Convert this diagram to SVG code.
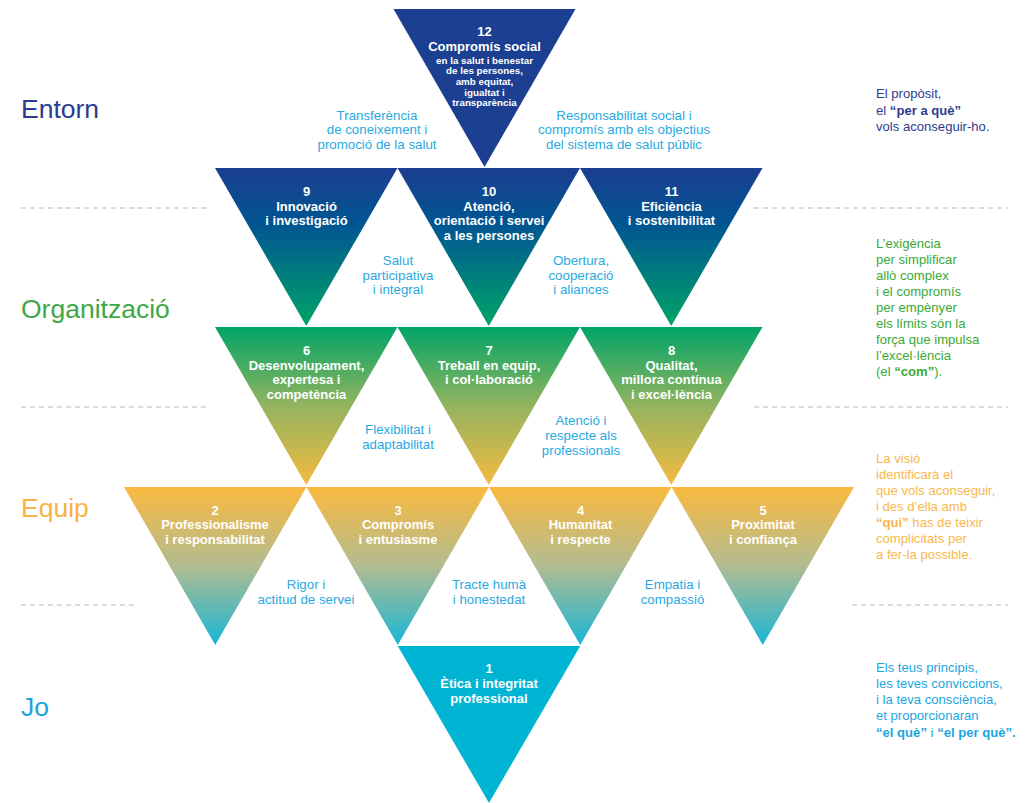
<svg xmlns="http://www.w3.org/2000/svg" width="1025" height="803" viewBox="0 0 1025 803">
<defs>
<linearGradient id="gBlueGreen" x1="0" y1="0" x2="0" y2="1">
<stop offset="0" stop-color="#1d3e90"/>
<stop offset="0.35" stop-color="#005592"/>
<stop offset="1" stop-color="#00a468"/>
</linearGradient>
<linearGradient id="gGreenYellow" x1="0" y1="0" x2="0" y2="1">
<stop offset="0" stop-color="#00a466"/>
<stop offset="0.5" stop-color="#93b45f"/>
<stop offset="1" stop-color="#f4b940"/>
</linearGradient>
<linearGradient id="gYellowCyan" x1="0" y1="0" x2="0" y2="1">
<stop offset="0" stop-color="#fab93f"/>
<stop offset="0.5" stop-color="#b2bc90"/>
<stop offset="1" stop-color="#18b6d6"/>
</linearGradient>
<style>
.node{font-family:"Liberation Sans",Arial,sans-serif;font-weight:bold;fill:#ffffff;text-anchor:middle;font-size:13px}
.small{font-size:9.8px}
.lbl{font-family:"Liberation Sans",Arial,sans-serif;fill:#29a9e1;text-anchor:middle;font-size:13.3px}
.side{font-family:"Liberation Sans",Arial,sans-serif;font-size:13.1px}
.lvl{font-family:"Liberation Sans",Arial,sans-serif;font-size:26.5px}
.dash{stroke:#b8b8b8;stroke-width:1;stroke-dasharray:5 4;fill:none}
.b{font-weight:bold}
</style>
</defs>
<rect width="1025" height="803" fill="#ffffff"/>

<g id="separators">
<line class="dash" x1="21" y1="208" x2="210" y2="208"/>
<line class="dash" x1="754" y1="208" x2="1008" y2="208"/>
<line class="dash" x1="21" y1="407" x2="210" y2="407"/>
<line class="dash" x1="754" y1="407" x2="1008" y2="407"/>
<line class="dash" x1="21" y1="605" x2="137" y2="605"/>
<line class="dash" x1="852" y1="605" x2="1008" y2="605"/>
</g>

<g id="levels">
<text class="lvl" x="21" y="118" fill="#2a3c8f">Entorn</text>
<text class="lvl" x="21" y="318" fill="#3da845">Organització</text>
<text class="lvl" x="21" y="517" fill="#f7b344">Equip</text>
<text class="lvl" x="21" y="716" fill="#1aa3dd">Jo</text>
</g>

<g id="n12">
<polygon points="393.5,9 575.5,9 484.5,167" fill="#1c3f91"/>
<text class="node" x="484.5" y="36">12</text>
<text class="node" x="484.5" y="51">Compromís social</text>
<text class="node small" x="484.5" y="63.5">en la salut i benestar</text>
<text class="node small" x="484.5" y="74.2">de les persones,</text>
<text class="node small" x="484.5" y="84.9">amb equitat,</text>
<text class="node small" x="484.5" y="95.6">igualtat i</text>
<text class="node small" x="484.5" y="106.3">transparència</text>
</g>

<g id="n9">
<polygon points="215,168 397.5,168 306.25,326" fill="url(#gBlueGreen)"/>
<text class="node" x="306.5" y="196">9</text>
<text class="node" x="306.5" y="210.5">Innovació</text>
<text class="node" x="306.5" y="225">i investigació</text>
</g>
<g id="n10">
<polygon points="397.5,168 580,168 488.75,326" fill="url(#gBlueGreen)"/>
<text class="node" x="489" y="196">10</text>
<text class="node" x="489" y="210.5">Atenció,</text>
<text class="node" x="489" y="225">orientació i servei</text>
<text class="node" x="489" y="239.5">a les persones</text>
</g>
<g id="n11">
<polygon points="580,168 762.5,168 671.25,326" fill="url(#gBlueGreen)"/>
<text class="node" x="671.5" y="196">11</text>
<text class="node" x="671.5" y="210.5">Eficiència</text>
<text class="node" x="671.5" y="225">i sostenibilitat</text>
</g>

<g id="n6">
<polygon points="215,327 397.5,327 306.25,485" fill="url(#gGreenYellow)"/>
<text class="node" x="306.5" y="355">6</text>
<text class="node" x="306.5" y="369.5">Desenvolupament,</text>
<text class="node" x="306.5" y="384">expertesa i</text>
<text class="node" x="306.5" y="398.5">competència</text>
</g>
<g id="n7">
<polygon points="397.5,327 580,327 488.75,485" fill="url(#gGreenYellow)"/>
<text class="node" x="489" y="355">7</text>
<text class="node" x="489" y="369.5">Treball en equip,</text>
<text class="node" x="489" y="384">i col·laboració</text>
</g>
<g id="n8">
<polygon points="580,327 762.5,327 671.25,485" fill="url(#gGreenYellow)"/>
<text class="node" x="671.5" y="355">8</text>
<text class="node" x="671.5" y="369.5">Qualitat,</text>
<text class="node" x="671.5" y="384">millora contínua</text>
<text class="node" x="671.5" y="398.5">i excel·lència</text>
</g>

<g id="n2">
<polygon points="124,487 306.5,487 215.25,645" fill="url(#gYellowCyan)"/>
<text class="node" x="215" y="514.5">2</text>
<text class="node" x="215" y="529">Professionalisme</text>
<text class="node" x="215" y="543.5">i responsabilitat</text>
</g>
<g id="n3">
<polygon points="306.5,487 489,487 397.75,645" fill="url(#gYellowCyan)"/>
<text class="node" x="398" y="514.5">3</text>
<text class="node" x="398" y="529">Compromís</text>
<text class="node" x="398" y="543.5">i entusiasme</text>
</g>
<g id="n4">
<polygon points="489,487 671.5,487 580.25,645" fill="url(#gYellowCyan)"/>
<text class="node" x="580.5" y="514.5">4</text>
<text class="node" x="580.5" y="529">Humanitat</text>
<text class="node" x="580.5" y="543.5">i respecte</text>
</g>
<g id="n5">
<polygon points="671.5,487 854,487 762.75,645" fill="url(#gYellowCyan)"/>
<text class="node" x="763" y="514.5">5</text>
<text class="node" x="763" y="529">Proximitat</text>
<text class="node" x="763" y="543.5">i confiança</text>
</g>

<g id="n1">
<polygon points="397.75,646 580.25,646 489,803" fill="#00b4d3"/>
<text class="node" x="489" y="673">1</text>
<text class="node" x="489" y="688">Ètica i integritat</text>
<text class="node" x="489" y="703">professional</text>
</g>

<g id="connectors">
<text class="lbl" x="377" y="119.5">Transferència</text>
<text class="lbl" x="377" y="134">de coneixement i</text>
<text class="lbl" x="377" y="148.5">promoció de la salut</text>
<text class="lbl" x="624" y="119.5">Responsabilitat social i</text>
<text class="lbl" x="624" y="134">compromís amb els objectius</text>
<text class="lbl" x="624" y="148.5">del sistema de salut públic</text>

<text class="lbl" x="398" y="264.5">Salut</text>
<text class="lbl" x="398" y="279.5">participativa</text>
<text class="lbl" x="398" y="294">i integral</text>
<text class="lbl" x="581" y="264.5">Obertura,</text>
<text class="lbl" x="581" y="279.5">cooperació</text>
<text class="lbl" x="581" y="294">i aliances</text>

<text class="lbl" x="398" y="433.5">Flexibilitat i</text>
<text class="lbl" x="398" y="448.5">adaptabilitat</text>
<text class="lbl" x="581" y="424.5">Atenció i</text>
<text class="lbl" x="581" y="439.5">respecte als</text>
<text class="lbl" x="581" y="454.5">professionals</text>

<text class="lbl" x="306" y="589">Rigor i</text>
<text class="lbl" x="306" y="603.5">actitud de servei</text>
<text class="lbl" x="489" y="589">Tracte humà</text>
<text class="lbl" x="489" y="603.5">i honestedat</text>
<text class="lbl" x="672.5" y="589">Empatia i</text>
<text class="lbl" x="672.5" y="603.5">compassió</text>
</g>

<g id="notes">
<text class="side" fill="#2e3b8d">
<tspan x="876" y="98">El propòsit,</tspan>
<tspan x="876" y="114.5">el <tspan class="b">“per a què”</tspan></tspan>
<tspan x="876" y="131">vols aconseguir-ho.</tspan>
</text>
<text class="side" fill="#3aaa35">
<tspan x="876" y="248">L’exigència</tspan>
<tspan x="876" y="264">per simplificar</tspan>
<tspan x="876" y="280">allò complex</tspan>
<tspan x="876" y="296">i el compromís</tspan>
<tspan x="876" y="312">per empènyer</tspan>
<tspan x="876" y="328">els límits són la</tspan>
<tspan x="876" y="344">força que impulsa</tspan>
<tspan x="876" y="360">l’excel·lència</tspan>
<tspan x="876" y="376">(el <tspan class="b">“com”</tspan>).</tspan>
</text>
<text class="side" fill="#f9b84b">
<tspan x="876" y="463">La visió</tspan>
<tspan x="876" y="479">identificarà el</tspan>
<tspan x="876" y="495">que vols aconseguir,</tspan>
<tspan x="876" y="511">i des d’ella amb</tspan>
<tspan x="876" y="527"><tspan class="b">“qui”</tspan> has de teixir</tspan>
<tspan x="876" y="543">complicitats per</tspan>
<tspan x="876" y="559">a fer-la possible.</tspan>
</text>
<text class="side" fill="#1ba6df">
<tspan x="876" y="672">Els teus principis,</tspan>
<tspan x="876" y="688">les teves conviccions,</tspan>
<tspan x="876" y="704">i la teva consciència,</tspan>
<tspan x="876" y="720">et proporcionaran</tspan>
<tspan x="876" y="737"><tspan class="b">“el què”</tspan> i <tspan class="b">“el per què”.</tspan></tspan>
</text>
</g>
</svg>
